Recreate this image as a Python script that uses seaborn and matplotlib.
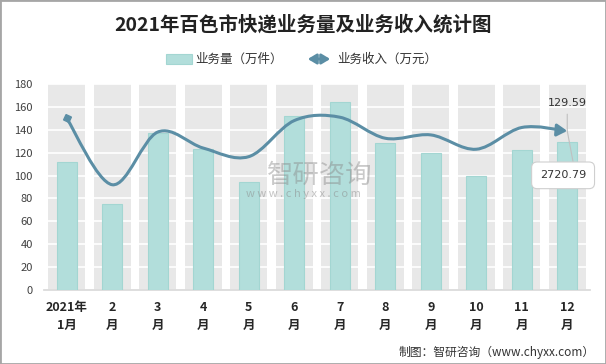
import numpy as np
import pandas as pd
import matplotlib
matplotlib.use('Agg')
import matplotlib.pyplot as plt
import seaborn as sns
from matplotlib.path import Path
from matplotlib.patches import FancyArrowPatch, Rectangle

months = ['2021年\n1月', '2\n月', '3\n月', '4\n月', '5\n月', '6\n月',
          '7\n月', '8\n月', '9\n月', '10\n月', '11\n月', '12\n月']
volume = [112, 75, 137, 123, 94, 152, 164, 128, 120, 100, 122, 129.59]   # 万件
income = [2936, 1800, 2701, 2427, 2280, 2897, 2955, 2595, 2652, 2407, 2779, 2720.79]  # 万元
yticks = list(range(0, 181, 20))

bar_color = '#b2dedb'
line_color = '#5b8ea5'

sns.set_theme(style='white')
plt.rcParams['font.family'] = ['Noto Sans CJK SC', 'DejaVu Sans']

fig = plt.figure(figsize=(6.06, 3.64), dpi=100)
ax = fig.add_axes([0.0726, 0.2033, 0.901, 0.566])

# grey category bands + white grid
for i in range(len(months)):
    ax.axvspan(i - 0.41, i + 0.41, color='#e8e8e8', lw=0, zorder=0)
for t in yticks:
    ax.axhline(t, color='white', lw=1.2, zorder=1)

df = pd.DataFrame({'month': months, 'volume': volume})
sns.barplot(data=df, x='month', y='volume', color=bar_color, width=0.45,
            edgecolor='#a3d6d2', linewidth=0.8, saturation=1, ax=ax, zorder=3)

ax.set_xlim(-0.5, len(months) - 0.5)
ax.set_ylim(0, 180)
ax.set_yticks(yticks)
ax.set_xlabel('')
ax.set_ylabel('')
for s in ['top', 'right', 'left']:
    ax.spines[s].set_visible(False)
ax.spines['bottom'].set_color('#d9d9d9')
ax.set_xticks(np.arange(-0.5, len(months)), minor=True)
ax.tick_params(axis='x', which='major', length=0, pad=8, labelsize=9, colors='#262626')
ax.tick_params(axis='x', which='minor', length=5, color='#d9d9d9', width=0.8, direction='out')
ax.tick_params(axis='y', length=0, pad=8, labelsize=8, colors='#404040')
for lbl in ax.get_xticklabels():
    lbl.set_fontweight('bold')
    lbl.set_linespacing(1.5)

# income line on hidden secondary axis, smoothed curve
ax2 = ax.twinx()
ax2.set_ylim(0, 3523)
ax2.axis('off')

pts = np.column_stack([np.arange(len(income)), income])
ext = np.vstack([pts[0], pts, pts[-1]])
verts = [pts[0]]
codes = [Path.MOVETO]
for i in range(len(income) - 1):
    p0, p1, p2, p3 = ext[i], ext[i + 1], ext[i + 2], ext[i + 3]
    verts += [p1 + (p2 - p0) / 6, p2 - (p3 - p1) / 6, p2]
    codes += [Path.CURVE4] * 3
curve = FancyArrowPatch(path=Path(verts, codes),
                        arrowstyle='-|>,head_length=0.5,head_width=0.3',
                        mutation_scale=12, color=line_color, lw=2.2, zorder=5)
ax2.add_patch(curve)
ax2.plot(0, income[0], marker=(4, 0, 20), markersize=6, color=line_color, zorder=5)

ax2.annotate(f'{volume[-1]:.2f}', xy=(11, income[-1]), xytext=(0, 20),
             textcoords='offset points', ha='center', va='center', fontsize=8,
             color='#333333', family=['DejaVu Sans'],
             arrowprops=dict(arrowstyle='-', color='#c0c0c0', lw=0.8, shrinkA=2, shrinkB=0))
ax2.annotate(f'{income[-1]:.2f}', xy=(11, income[-1]), xytext=(-3, -32),
             textcoords='offset points', ha='center', va='center', fontsize=8,
             color='#333333', family=['DejaVu Sans'],
             bbox=dict(boxstyle='round,pad=0.75,rounding_size=0.5', fc='white', ec='#cfcfcf', lw=0.8),
             arrowprops=dict(arrowstyle='-', color='#c0c0c0', lw=0.8, relpos=(0.75, 1),
                             shrinkA=0, shrinkB=0))

# title, legend, footer
fig.text(0.5, 1 - 25 / 364, '2021年百色市快递业务量及业务收入统计图', ha='center', va='center',
         fontsize=14, fontweight='bold', color='#222222')

ly = 1 - 59 / 364
fig.patches.append(Rectangle((166 / 606, ly - 4.5 / 364), 26 / 606, 9 / 364,
                             transform=fig.transFigure, fc=bar_color, ec='#a3d6d2', lw=0.8))
fig.text(195 / 606, ly, '业务量（万件）', ha='left', va='center', fontsize=9, color='#333333')
fig.patches.append(FancyArrowPatch((305 / 606, ly), (333 / 606, ly), transform=fig.transFigure,
                                   arrowstyle='<|-|>,head_length=0.5,head_width=0.3',
                                   mutation_scale=10, color=line_color, lw=2))
fig.text(337 / 606, ly, '业务收入（万元）', ha='left', va='center', fontsize=9, color='#333333')

fig.text(595 / 606, 1 - 352 / 364, '制图：智研咨询（www.chyxx.com）', ha='right', va='center',
         fontsize=8.5, color='#333333')

# watermark
fig.text(320 / 606, 1 - 175 / 364, '智研咨询', ha='center', va='center', fontsize=19,
         color='#8a8a8a', alpha=0.45)
fig.text(303 / 606, 1 - 194 / 364, 'w w w . c h y x x . c o m', ha='center', va='center',
         fontsize=8, color='#8a8a8a', alpha=0.5)

fig.patches.append(Rectangle((0, 0), 1, 1, transform=fig.transFigure, fill=False,
                             ec='#a6a6a6', lw=2))

fig.savefig('out.png', dpi=100)
